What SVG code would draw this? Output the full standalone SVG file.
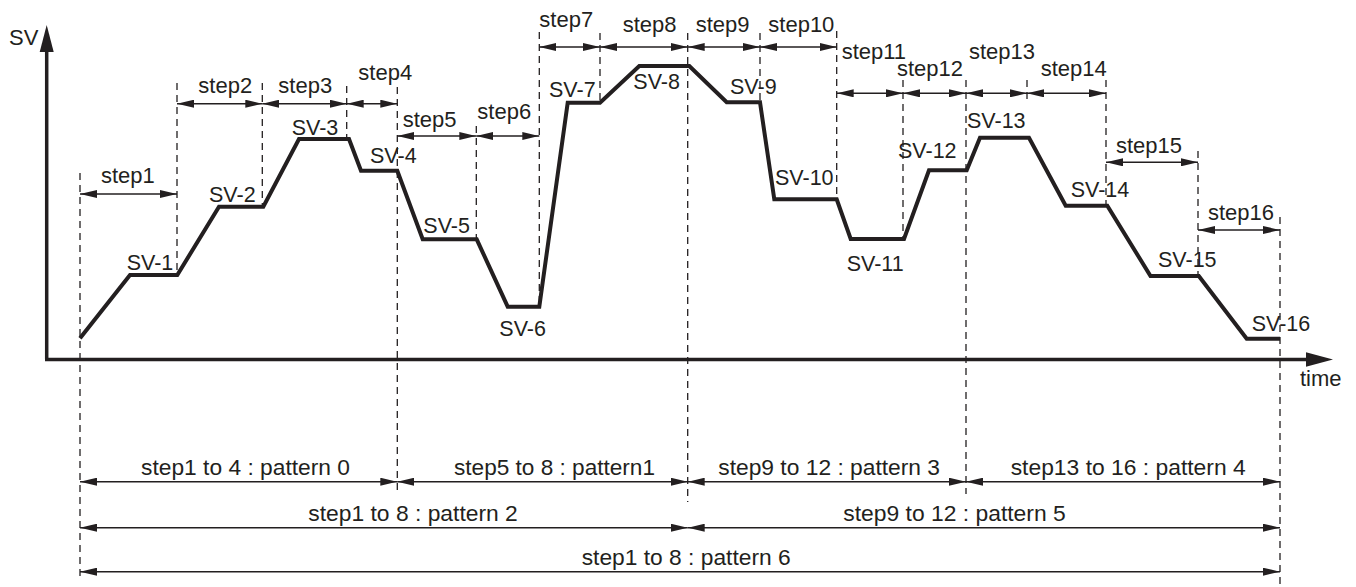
<svg xmlns="http://www.w3.org/2000/svg" width="1356" height="587" viewBox="0 0 1356 587">
<style>
text{font-family:"Liberation Sans",Arial,Helvetica,sans-serif;fill:#231f20}
.st{font-size:22px}
.sv{font-size:21.5px}
.pt{font-size:22px}
.dash{stroke:#231f20;stroke-width:1.3;stroke-dasharray:7 5;fill:none}
.dim{stroke:#231f20;stroke-width:1.4;fill:none;marker-start:url(#ah);marker-end:url(#ah)}
.axis{stroke:#231f20;stroke-width:3.5;fill:none}
.curve{stroke:#231f20;stroke-width:4;fill:none;stroke-linejoin:miter}
</style>
<defs>
<marker id="ah" markerUnits="userSpaceOnUse" markerWidth="17" markerHeight="8" refX="17" refY="4" orient="auto-start-reverse" viewBox="0 0 17 8">
<path d="M0,0 L17,4 L0,8 z" fill="#231f20"/>
</marker>
</defs>
<rect width="1356" height="587" fill="#ffffff"/>

<g id="axes">
<line class="axis" x1="46.7" y1="359.5" x2="46.7" y2="50"/>
<path d="M46.7,25 L53.7,52 L39.7,52 z" fill="#231f20"/>
<line class="axis" x1="45" y1="359.5" x2="1308" y2="359.5"/>
<path d="M1333,359.5 L1306,352.3 L1306,366.7 z" fill="#231f20"/>
<text x="9" y="45" style="font-size:22px">SV</text>
<text x="1300" y="386" style="font-size:22px">time</text>
</g>

<g id="guides">
<line class="dash" x1="80" y1="173" x2="80" y2="580"/>
<line class="dash" x1="177" y1="83" x2="177" y2="275"/>
<line class="dash" x1="262.3" y1="83" x2="262.3" y2="206"/>
<line class="dash" x1="346.7" y1="86" x2="346.7" y2="139"/>
<line class="dash" x1="397.3" y1="87" x2="397.3" y2="495"/>
<line class="dash" x1="476.3" y1="126" x2="476.3" y2="239"/>
<line class="dash" x1="539.3" y1="32" x2="539.3" y2="306"/>
<line class="dash" x1="600" y1="33" x2="600" y2="102"/>
<line class="dash" x1="687.7" y1="33" x2="687.7" y2="502"/>
<line class="dash" x1="760" y1="33" x2="760" y2="102"/>
<line class="dash" x1="836.7" y1="31" x2="836.7" y2="199"/>
<line class="dash" x1="903" y1="80" x2="903" y2="239"/>
<line class="dash" x1="966" y1="80" x2="966" y2="494"/>
<line class="dash" x1="1027" y1="80" x2="1027" y2="100"/>
<line class="dash" x1="1106" y1="80" x2="1106" y2="205"/>
<line class="dash" x1="1198" y1="151" x2="1198" y2="276"/>
<line class="dash" x1="1280" y1="217" x2="1280" y2="587"/>
</g>

<g id="sv-curve">
<polyline class="curve" points="80,338.3 130,275 177.3,275 219,206.7 263.3,206.7 299,139 349,139 361,170.7 397.3,170.7 422.7,239.3 476.7,239.3 507.7,306.7 539.3,306.7 567.7,102.7 600,102.7 639.3,66 689.3,66 726.7,102.3 760,102.3 774.3,199.3 836.7,199.3 850.7,239 904,239 929,170.3 966.7,170.3 980,137.7 1029,137.7 1065.7,205.7 1107.3,205.7 1150.5,276 1198.8,276 1246.7,338.7 1280,338.7"/>
</g>

<g id="sv-labels" class="sv">
<text class="sv" x="126.7" y="270">SV-1</text>
<text class="sv" x="209" y="201.7">SV-2</text>
<text class="sv" x="291.7" y="135">SV-3</text>
<text class="sv" x="370" y="162.7">SV-4</text>
<text class="sv" x="423.3" y="232.7">SV-5</text>
<text class="sv" x="499.3" y="336">SV-6</text>
<text class="sv" x="549" y="96.7">SV-7</text>
<text class="sv" x="633.3" y="89.3">SV-8</text>
<text class="sv" x="730" y="94.3">SV-9</text>
<text class="sv" x="775" y="185">SV-10</text>
<text class="sv" x="846.7" y="271">SV-11</text>
<text class="sv" x="898" y="158.3">SV-12</text>
<text class="sv" x="967" y="128.3">SV-13</text>
<text class="sv" x="1070.7" y="197.3">SV-14</text>
<text class="sv" x="1158" y="266.7">SV-15</text>
<text class="sv" x="1251.7" y="330.7">SV-16</text>
</g>

<g id="connectors">
<line class="dim" x1="80" y1="194" x2="177" y2="194"/>
<line class="dim" x1="177" y1="103.7" x2="262.3" y2="103.7"/>
<line class="dim" x1="262.3" y1="103.7" x2="346.7" y2="103.7"/>
<line class="dim" x1="346.7" y1="103.7" x2="397.3" y2="103.7"/>
<line class="dim" x1="397.3" y1="136" x2="476.3" y2="136"/>
<line class="dim" x1="476.3" y1="136" x2="539.3" y2="136"/>
<line class="dim" x1="539.3" y1="47" x2="600" y2="47"/>
<line class="dim" x1="600" y1="47" x2="687.7" y2="47"/>
<line class="dim" x1="687.7" y1="47" x2="760" y2="47"/>
<line class="dim" x1="760" y1="47" x2="836.7" y2="47"/>
<line class="dim" x1="836.7" y1="93.3" x2="903" y2="93.3"/>
<line class="dim" x1="903" y1="93.3" x2="966" y2="93.3"/>
<line class="dim" x1="966" y1="93.3" x2="1027" y2="93.3"/>
<line class="dim" x1="1027" y1="93.3" x2="1106" y2="93.3"/>
<line class="dim" x1="1106" y1="162.3" x2="1198" y2="162.3"/>
<line class="dim" x1="1198" y1="230" x2="1280" y2="230"/>
<line class="dim" x1="80" y1="481.7" x2="397.3" y2="481.7"/>
<line class="dim" x1="397.3" y1="481.7" x2="687.7" y2="481.7"/>
<line class="dim" x1="687.7" y1="481.7" x2="966" y2="481.7"/>
<line class="dim" x1="966" y1="481.7" x2="1280" y2="481.7"/>
<line class="dim" x1="80" y1="527.7" x2="687.7" y2="527.7"/>
<line class="dim" x1="687.7" y1="527.7" x2="1280" y2="527.7"/>
<line class="dim" x1="80" y1="571.7" x2="1280" y2="571.7"/>
</g>

<g id="step-labels">
<text id="step1" class="st" x="101" y="183.3">step1</text>
<text id="step2" class="st" x="198.3" y="92.7">step2</text>
<text id="step3" class="st" x="278.3" y="92.7">step3</text>
<text id="step4" class="st" x="358.3" y="80">step4</text>
<text id="step5" class="st" x="402.7" y="126.7">step5</text>
<text id="step6" class="st" x="477.3" y="119.3">step6</text>
<text id="step7" class="st" x="539.3" y="27.3">step7</text>
<text id="step8" class="st" x="622.7" y="31.7">step8</text>
<text id="step9" class="st" x="695.7" y="31.7">step9</text>
<text id="step10" class="st" x="768.3" y="31.7">step10</text>
<text id="step11" class="st" x="841.7" y="59.3">step11</text>
<text id="step12" class="st" x="897" y="76">step12</text>
<text id="step13" class="st" x="969" y="59.3">step13</text>
<text id="step14" class="st" x="1040.7" y="76">step14</text>
<text id="step15" class="st" x="1116" y="152.7">step15</text>
<text id="step16" class="st" x="1208" y="220">step16</text>
</g>

<g id="pattern-labels">
<text id="pattern0" class="pt" x="141" y="475" textLength="209" lengthAdjust="spacingAndGlyphs">step1 to 4 : pattern 0</text>
<text id="pattern1" class="pt" x="454" y="475" textLength="201" lengthAdjust="spacingAndGlyphs">step5 to 8 : pattern1</text>
<text id="pattern3" class="pt" x="718.3" y="475" textLength="221.7" lengthAdjust="spacingAndGlyphs">step9 to 12 : pattern 3</text>
<text id="pattern4" class="pt" x="1010.7" y="475" textLength="235" lengthAdjust="spacingAndGlyphs">step13 to 16 : pattern 4</text>
<text id="pattern2" class="pt" x="308.3" y="521" textLength="209.5" lengthAdjust="spacingAndGlyphs">step1 to 8 : pattern 2</text>
<text id="pattern5" class="pt" x="843.3" y="521" textLength="222.4" lengthAdjust="spacingAndGlyphs">step9 to 12 : pattern 5</text>
<text id="pattern6" class="pt" x="581.7" y="565" textLength="209" lengthAdjust="spacingAndGlyphs">step1 to 8 : pattern 6</text>
</g>
</svg>
